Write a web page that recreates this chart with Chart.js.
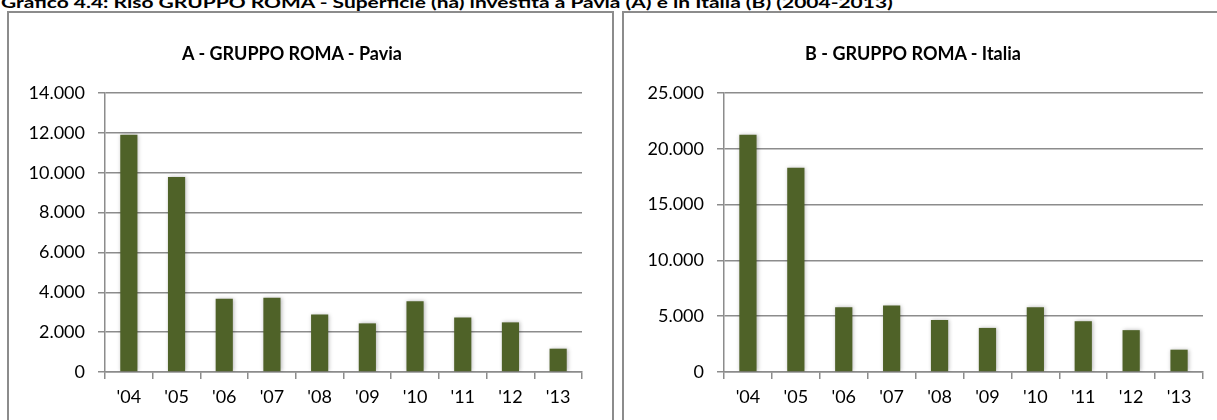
<!DOCTYPE html>
<html>
<head>
<meta charset="utf-8">
<script src="https://cdn.jsdelivr.net/npm/chart.js@4.4.1/dist/chart.umd.min.js"></script>
<style>
  body { margin: 0; background: #fff; width: 1217px; height: 420px; overflow: hidden; position: relative; font-family: Lato, "Open Sans", sans-serif; }
  #caption { position: absolute; left: 1px; top: -8px; font-weight: bold; font-size: 16px; white-space: nowrap; color: #000; transform: scaleX(1.31); transform-origin: left top; }
  .box { position: absolute; border: 2px solid #8c8c8c; box-sizing: border-box; background: #fff; }
  .box canvas { position: absolute; left: 0; top: 0; }
  .ttl { position: absolute; top: 29px; font-weight: bold; font-size: 18px; white-space: nowrap; color: #000; transform: translateX(-50%); }
</style>
</head>
<body>
<div id="caption">Grafico 4.4: Riso GRUPPO ROMA - Superficie (ha) investita a Pavia (A) e in Italia (B) (2004-2013)</div>

<div class="box" style="left:7px; top:11px; width:607px; height:420px;">
  <canvas id="chartA" width="603" height="404"></canvas>
  <div class="ttl" style="left:283px;">A - GRUPPO ROMA - Pavia</div>
</div>
<div class="box" style="left:622px; top:11px; width:600px; height:420px;">
  <canvas id="chartB" width="596" height="404"></canvas>
  <div class="ttl" style="left:289px;">B - GRUPPO ROMA - Italia</div>
</div>

<script>
	// dati
	var anni = ["'04", "'05", "'06", "'07", "'08", "'09", "'10", "'11", "'12", "'13"];
	var pavia = [11900, 9780, 3680, 3730, 2880, 2440, 3550, 2730, 2490, 1170];
	var italia = [21250, 18300, 5800, 5950, 4650, 3950, 5800, 4550, 3750, 2000];
	var ticksPavia = [0, 2000, 4000, 6000, 8000, 10000, 12000, 14000];
	var ticksItalia = [0, 5000, 10000, 15000, 20000, 25000];

	var color_bar = '#4f6228';
	var color_grid = '#8c8c8c';
	var font_lbl = { family: 'Lato, "Open Sans", sans-serif', size: 18 };

	function formatNum(v) {
		return String(v).replace(/\B(?=(\d{3})+(?!\d))/g, '.');
	}

	// leggera ombra attorno alle barre
	var glow = {
		id: 'glow',
		beforeDatasetsDraw: function(chart) {
			var ctx = chart.ctx;
			ctx.save();
			ctx.shadowColor = 'rgba(0,0,0,0.28)';
			ctx.shadowBlur = 4;
			ctx.shadowOffsetX = 1;
			ctx.shadowOffsetY = 0;
		},
		afterDatasetsDraw: function(chart) {
			chart.ctx.restore();
		}
	};

	function makeChart(id, data, ticks, yWidth, padRight) {
		var ctx = document.getElementById(id).getContext('2d');
		return new Chart(ctx, {
			type: 'bar',
			data: {
				labels: anni,
				datasets: [{
					data: data,
					backgroundColor: color_bar,
					borderWidth: 0,
					categoryPercentage: 1,
					barPercentage: 0.36
				}]
			},
			options: {
				responsive: false,
				animation: false,
				layout: { padding: { top: 80, right: padRight, left: 0, bottom: 0 } },
				plugins: { legend: { display: false }, tooltip: { enabled: false } },
				scales: {
					x: {
						grid: { display: true, drawOnChartArea: false, drawTicks: true, tickLength: 7, color: color_grid, lineWidth: 1.5, offset: true },
						border: { color: color_grid, width: 1.5 },
						ticks: { color: '#000', font: font_lbl, padding: 7 },
						afterFit: function(scale) { scale.height = 45; }
					},
					y: {
						min: 0,
						max: ticks[ticks.length - 1],
						afterBuildTicks: function(scale) {
							scale.ticks = ticks.map(function(v) { return { value: v }; });
						},
						grid: { color: color_grid, lineWidth: 1.5, drawTicks: true, tickLength: 7 },
						border: { color: color_grid, width: 1.5 },
						ticks: {
							color: '#000',
							font: font_lbl,
							padding: 13,
							callback: function(value) { return formatNum(value); }
						},
						afterFit: function(scale) { scale.width = yWidth; }
					}
				}
			},
			plugins: [glow]
		});
	}

	makeChart('chartA', pavia, ticksPavia, 96, 30);
	makeChart('chartB', italia, ticksItalia, 100, 17);
</script>
</body>
</html>
